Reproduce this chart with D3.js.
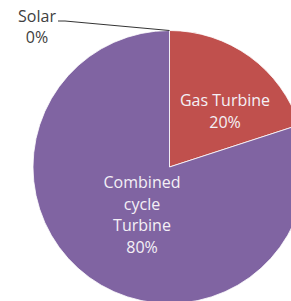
<!DOCTYPE html>
<html lang="en">
<head>
<meta charset="UTF-8">
<title>Generation Mix Pie</title>
<script src="https://d3js.org/d3.v7.min.js"></script>
<style>
  body { margin: 0; background: #fff; }
  svg text { font-family: 'Open Sans', sans-serif; font-size: 16px; }
</style>
</head>
<body>
<div id="chart"></div>
<script>
  // Chart data
  const categories = ["Solar", "Gas Turbine", "Combined cycle Turbine"];
  const values = [0, 20, 80];
  const colors = ["#4F81BD", "#C0504D", "#8064A2"];
  // label lines (wrapped like the original)
  const labelLines = [["Solar"], ["Gas Turbine"], ["Combined", "cycle", "Turbine"]];

  const width = 291, height = 301;
  const cx = 169.5, cy = 167, radius = 136.5;

  const data = categories.map((c, i) => ({ name: c, value: values[i], color: colors[i], lines: labelLines[i] }));
  const total = d3.sum(values);
  const pct = v => d3.format(".0%")(v / total);

  const svg = d3.select("#chart").append("svg")
      .attr("width", width).attr("height", height);

  const g = svg.append("g").attr("transform", `translate(${cx},${cy})`);

  const pie = d3.pie().value(d => d.value).sort(null);
  const arcs = pie(data);

  const arc = d3.arc().innerRadius(0).outerRadius(radius);

  g.selectAll("path")
    .data(arcs.filter(d => d.data.value > 0))
    .join("path")
      .attr("d", arc)
      .attr("fill", d => d.data.color)
      .attr("stroke", "#fff")
      .attr("stroke-width", 0.8);

  // inside labels: centroid at a fraction of radius, nudged like Excel's best-fit
  const labelPos = {
    "Gas Turbine": { r: 0.58, dx: 9, dy: 9 },
    "Combined cycle Turbine": { r: 0.43, dx: 7, dy: 1 }
  };
  const lineH = 21.5;

  arcs.filter(d => d.data.value > 0).forEach(d => {
    const p = labelPos[d.data.name];
    const la = d3.arc().innerRadius(radius * p.r).outerRadius(radius * p.r);
    let [x, y] = la.centroid(d);
    x += p.dx; y += p.dy;
    const lines = d.data.lines.concat([pct(d.data.value)]);
    const t = g.append("text")
      .attr("text-anchor", "middle")
      .attr("fill", "#f4f0f6")
      .attr("y", y - (lines.length - 1) * lineH / 2 + 5);
    lines.forEach((s, i) => {
      t.append("tspan").attr("x", x).attr("dy", i === 0 ? 0 : lineH).text(s);
    });
  });

  // outside label for the zero slice with a leader line
  arcs.filter(d => d.data.value === 0).forEach(d => {
    const outer = d3.arc().innerRadius(radius).outerRadius(radius);
    const [px, py] = outer.centroid(d);
    const lx = -104.5, ly = -146;
    g.append("polyline")
      .attr("points", [[px, py], [lx, ly], [lx - 7, ly]].map(p => p.join(",")).join(" "))
      .attr("fill", "none")
      .attr("stroke", "#000")
      .attr("stroke-width", 0.8);
    const t = g.append("text")
      .attr("text-anchor", "middle")
      .attr("fill", "#404040");
    t.append("tspan").attr("x", -132.5).attr("y", -145).text(d.data.name);
    t.append("tspan").attr("x", -132.5).attr("dy", 21).text(pct(d.data.value));
  });
</script>
</body>
</html>
